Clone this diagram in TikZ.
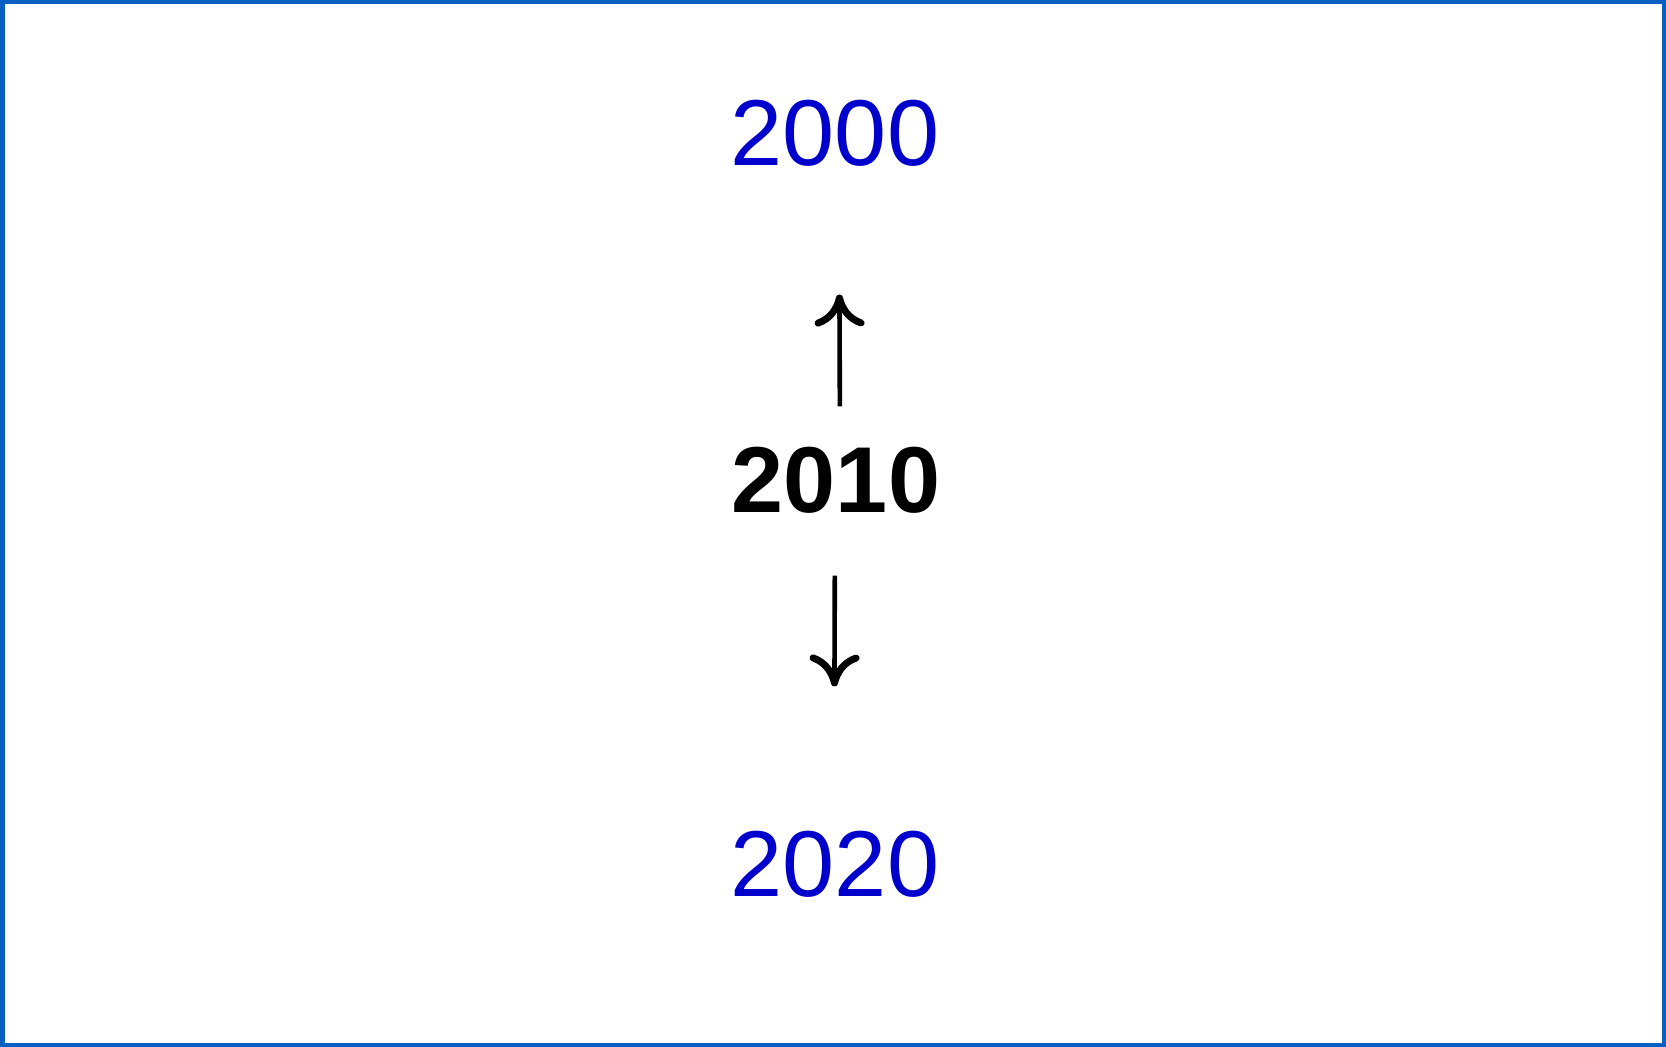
\documentclass[tikz,border=0pt]{standalone}
\usepackage{fontspec}
\setmainfont{Liberation Sans}
\usetikzlibrary{arrows.meta}
\definecolor{framecol}{HTML}{0A5FC2}
\definecolor{yearcol}{HTML}{0000CC}

\begin{document}
\begin{tikzpicture}[
    x=0.5pt, y=-0.5pt,
    year/.style={inner sep=0pt, font=\fontsize{46.8}{56}\selectfont},
    other/.style={year, text=yearcol},
    now/.style={year, font=\fontsize{46.8}{56}\selectfont\bfseries},
    arr/.style={-{Computer Modern Rightarrow[length=16pt, width=25pt, line width=3.5pt]}, line width=2.3pt}
]
\useasboundingbox (0,0) rectangle (1666,1047);
\draw[framecol, line width=2.25pt] (2.25,2.25) rectangle (1663.75,1044.75);
\node[other] (past) at (835,133) {2000};
\node[now] (mid) at (836,480) {2010};
\node[other] (future) at (835,864) {2020};
\draw[arr, shorten <=20pt, shorten >=64pt] ([xshift=2pt]mid.north) -- ([xshift=2pt]past.south);
\draw[arr, shorten <=31pt, shorten >=72pt] ([xshift=-0.5pt]mid.south) -- ([xshift=-0.5pt]future.north);
\end{tikzpicture}
\end{document}
